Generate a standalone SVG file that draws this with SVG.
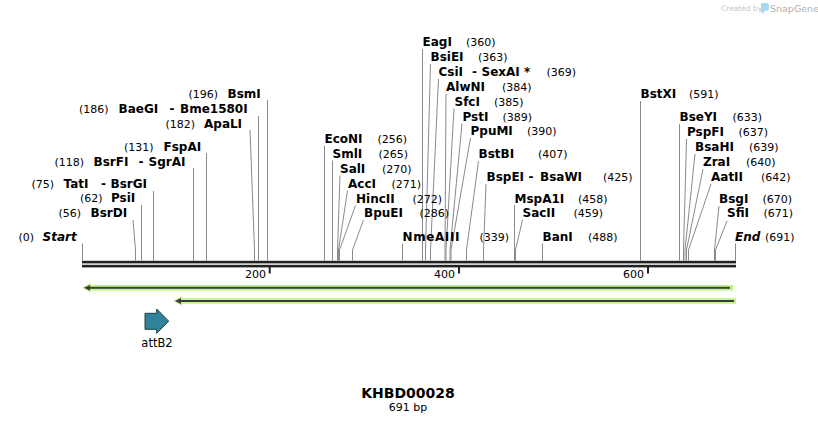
<svg xmlns="http://www.w3.org/2000/svg" width="818" height="424" viewBox="0 0 818 424">
<style>
text{font-family:"DejaVu Sans",Verdana,sans-serif;fill:#000}
.n{font-size:12px;font-weight:bold}
.i{font-size:12px;font-weight:bold;font-style:italic}
.p{font-size:11px;font-weight:normal}
.c{stroke:#8a8a8a;stroke-width:1;fill:none}
.tk{fill:#222}
.g{fill:#bff38a}
.d{fill:#3c3c3c}
</style>
<rect width="818" height="424" fill="#fff"/>
<g id="logo">
<text x="721" y="11" style="font-size:7.5px;fill:#c4c4c4">Created by</text>
<path d="M761,3 h5 a3,3 0 0 1 3,3 v2 a3,3 0 0 1 -3,3 h-2 v3 l-3,-2 z" fill="#a9d6f2"/>
<text x="770" y="11.5" style="font-size:9.5px;fill:#b0b0b0">SnapGene</text>
</g>
<g id="connectors">
<path class="c" d="M82.5,243.5V260.5"/>
<path class="c" d="M133,220L135.5,250V260.5"/>
<path class="c" d="M141.5,205V260.5"/>
<path class="c" d="M153.5,191V260.5"/>
<path class="c" d="M193.5,168V260.5"/>
<path class="c" d="M206.5,153V260.5"/>
<path class="c" d="M250,130L254.5,250V260.5"/>
<path class="c" d="M258.5,116V260.5"/>
<path class="c" d="M267.5,100V260.5"/>
<path class="c" d="M324.5,145.5V260.5"/>
<path class="c" d="M332.5,160.5V260.5"/>
<path class="c" d="M340,175.5L337.5,250V260.5"/>
<path class="c" d="M347.5,190.5L338.5,250V260.5"/>
<path class="c" d="M355.5,205.5L339.5,250V260.5"/>
<path class="c" d="M363.5,220L352.5,250V260.5"/>
<path class="c" d="M402.5,243.5V260.5"/>
<path class="c" d="M422.5,49V260.5"/>
<path class="c" d="M430.5,64L425.5,250V260.5"/>
<path class="c" d="M438.5,79L430.5,250V260.5"/>
<path class="c" d="M446,94L445,250V260.5"/>
<path class="c" d="M454,108.5L446,250V260.5"/>
<path class="c" d="M462,123.5L450,250V260.5"/>
<path class="c" d="M470.5,138L451,250V260.5"/>
<path class="c" d="M478.5,161L466.5,250V260.5"/>
<path class="c" d="M486,184L483.5,250V260.5"/>
<path class="c" d="M514.5,205V260.5"/>
<path class="c" d="M522.5,220L515.5,250V260.5"/>
<path class="c" d="M542.5,243.5V260.5"/>
<path class="c" d="M640.5,101V260.5"/>
<path class="c" d="M679.5,124V260.5"/>
<path class="c" d="M686.5,139L683.5,250V260.5"/>
<path class="c" d="M695,154L685,250V260.5"/>
<path class="c" d="M703,169L686.5,250V260.5"/>
<path class="c" d="M711,184L688.5,250V260.5"/>
<path class="c" d="M719,206L714.5,250V260.5"/>
<path class="c" d="M727,221L715.5,250V260.5"/>
<path class="c" d="M735.5,243.5V260.5"/>
</g>
<g id="backbone">
<rect class="tk" x="82" y="260.8" width="654" height="2.6"/>
<rect class="tk" x="82" y="264.8" width="654" height="2.6"/>
<rect class="tk" x="268.7" y="267" width="2" height="6.5"/>
<rect class="tk" x="458" y="267" width="2" height="6.5"/>
<rect class="tk" x="647" y="267" width="2" height="6.5"/>
<text class="p" x="266" y="278" text-anchor="end">200</text>
<text class="p" x="455" y="278" text-anchor="end">400</text>
<text class="p" x="644" y="278" text-anchor="end">600</text>
</g>
<g id="feature1">
<path class="g" d="M733,285H91V283L82,287.8L91,292.6V290.6H733Z"/>
<rect class="d" x="88" y="286.8" width="642" height="2"/>
<path class="d" d="M84,287.8L90,284.9V290.7Z"/>
</g>
<g id="feature2">
<path class="g" d="M736,298.3H182V296.3L173,301L182,305.8V303.8H736Z"/>
<rect class="d" x="179" y="300" width="555" height="2"/>
<path class="d" d="M175,301L181,298.1V303.9Z"/>
</g>
<g id="attB2">
<path d="M145,313.3H156.7V309L168.7,321.2L156.7,333.3V329.3H145Z" fill="#30819a" stroke="#1e3f48" stroke-width="1"/>
<text x="157" y="347" text-anchor="middle" style="font-size:11.5px">attB2</text>
</g>
<g id="title">
<text x="408" y="398" text-anchor="middle" style="font-size:14px;font-weight:bold">KHBD00028</text>
<text x="408" y="411" text-anchor="middle" class="p">691 bp</text>
</g>
<g id="lbl-start"><text y="240.5"><tspan class="p" x="18.5">(0)</tspan><tspan class="i" x="42.5">Start</tspan></text></g>
<g id="lbl-BsrDI"><text y="217"><tspan class="p" x="58.5">(56)</tspan><tspan class="n" x="90.5">BsrDI</tspan></text></g>
<g id="lbl-PsiI"><text y="202"><tspan class="p" x="80">(62)</tspan><tspan class="n" x="111">PsiI</tspan></text></g>
<g id="lbl-TatI"><text y="188"><tspan class="p" x="31.5">(75)</tspan><tspan class="n" x="63.5">TatI</tspan><tspan class="n" x="101">-</tspan><tspan class="n" x="110.5">BsrGI</tspan></text></g>
<g id="lbl-BsrFI"><text y="165.5"><tspan class="p" x="54.5">(118)</tspan><tspan class="n" x="93.5">BsrFI</tspan><tspan class="n" x="138.5">-</tspan><tspan class="n" x="148.5">SgrAI</tspan></text></g>
<g id="lbl-FspAI"><text y="150.5"><tspan class="p" x="124">(131)</tspan><tspan class="n" x="163.5">FspAI</tspan></text></g>
<g id="lbl-ApaLI"><text y="127.5"><tspan class="p" x="165.5">(182)</tspan><tspan class="n" x="204">ApaLI</tspan></text></g>
<g id="lbl-BaeGI"><text y="112.5"><tspan class="p" x="79">(186)</tspan><tspan class="n" x="118.5">BaeGI</tspan><tspan class="n" x="169.5">-</tspan><tspan class="n" x="180">Bme1580I</tspan></text></g>
<g id="lbl-BsmI"><text y="97.5"><tspan class="p" x="188.5">(196)</tspan><tspan class="n" x="227.5">BsmI</tspan></text></g>
<g id="lbl-EcoNI"><text y="142.5"><tspan class="n" x="324.5">EcoNI</tspan><tspan class="p" x="377.5">(256)</tspan></text></g>
<g id="lbl-SmlI"><text y="157.5"><tspan class="n" x="332.5">SmlI</tspan><tspan class="p" x="378.5">(265)</tspan></text></g>
<g id="lbl-SalI"><text y="172.5"><tspan class="n" x="340">SalI</tspan><tspan class="p" x="382">(270)</tspan></text></g>
<g id="lbl-AccI"><text y="187.5"><tspan class="n" x="348">AccI</tspan><tspan class="p" x="391.5">(271)</tspan></text></g>
<g id="lbl-HincII"><text y="202.5"><tspan class="n" x="356">HincII</tspan><tspan class="p" x="412.5">(272)</tspan></text></g>
<g id="lbl-BpuEI"><text y="217"><tspan class="n" x="364">BpuEI</tspan><tspan class="p" x="419.5">(286)</tspan></text></g>
<g id="lbl-NmeAIII"><text y="240.5"><tspan class="n" x="402.5" letter-spacing="0.6">NmeAIII</tspan><tspan class="p" x="479.5">(339)</tspan></text></g>
<g id="lbl-EagI"><text y="46"><tspan class="n" x="422.5">EagI</tspan><tspan class="p" x="466">(360)</tspan></text></g>
<g id="lbl-BsiEI"><text y="61"><tspan class="n" x="430.5">BsiEI</tspan><tspan class="p" x="478">(363)</tspan></text></g>
<g id="lbl-CsiI"><text y="76"><tspan class="n" x="438.5">CsiI</tspan><tspan class="n" x="472">-</tspan><tspan class="n" x="481.5">SexAI *</tspan><tspan class="p" x="546.5">(369)</tspan></text></g>
<g id="lbl-AlwNI"><text y="90.5"><tspan class="n" x="446">AlwNI</tspan><tspan class="p" x="502">(384)</tspan></text></g>
<g id="lbl-SfcI"><text y="105.5"><tspan class="n" x="454.5">SfcI</tspan><tspan class="p" x="494">(385)</tspan></text></g>
<g id="lbl-PstI"><text y="120.5"><tspan class="n" x="462.5">PstI</tspan><tspan class="p" x="502.5">(389)</tspan></text></g>
<g id="lbl-PpuMI"><text y="135"><tspan class="n" x="470.5">PpuMI</tspan><tspan class="p" x="527">(390)</tspan></text></g>
<g id="lbl-BstBI"><text y="157.5"><tspan class="n" x="478.5">BstBI</tspan><tspan class="p" x="538">(407)</tspan></text></g>
<g id="lbl-BspEI"><text y="180.5"><tspan class="n" x="486.5">BspEI</tspan><tspan class="n" x="528.5">-</tspan><tspan class="n" x="540">BsaWI</tspan><tspan class="p" x="603">(425)</tspan></text></g>
<g id="lbl-MspA1I"><text y="202.5"><tspan class="n" x="514.5">MspA1I</tspan><tspan class="p" x="578">(458)</tspan></text></g>
<g id="lbl-SacII"><text y="217"><tspan class="n" x="522.5">SacII</tspan><tspan class="p" x="573.5">(459)</tspan></text></g>
<g id="lbl-BanI"><text y="240.5"><tspan class="n" x="542.5">BanI</tspan><tspan class="p" x="588">(488)</tspan></text></g>
<g id="lbl-BstXI"><text y="98"><tspan class="n" x="640.5">BstXI</tspan><tspan class="p" x="689">(591)</tspan></text></g>
<g id="lbl-BseYI"><text y="121"><tspan class="n" x="679.5">BseYI</tspan><tspan class="p" x="732.5">(633)</tspan></text></g>
<g id="lbl-PspFI"><text y="135.5"><tspan class="n" x="687">PspFI</tspan><tspan class="p" x="738.5">(637)</tspan></text></g>
<g id="lbl-BsaHI"><text y="150.5"><tspan class="n" x="695">BsaHI</tspan><tspan class="p" x="749">(639)</tspan></text></g>
<g id="lbl-ZraI"><text y="165.5"><tspan class="n" x="703">ZraI</tspan><tspan class="p" x="746">(640)</tspan></text></g>
<g id="lbl-AatII"><text y="180.5"><tspan class="n" x="711">AatII</tspan><tspan class="p" x="761">(642)</tspan></text></g>
<g id="lbl-BsgI"><text y="202.5"><tspan class="n" x="719">BsgI</tspan><tspan class="p" x="762.5">(670)</tspan></text></g>
<g id="lbl-SfiI"><text y="217"><tspan class="n" x="727">SfiI</tspan><tspan class="p" x="763.5">(671)</tspan></text></g>
<g id="lbl-End"><text y="240.5"><tspan class="i" x="735">End</tspan><tspan class="p" x="765">(691)</tspan></text></g>
</svg>
